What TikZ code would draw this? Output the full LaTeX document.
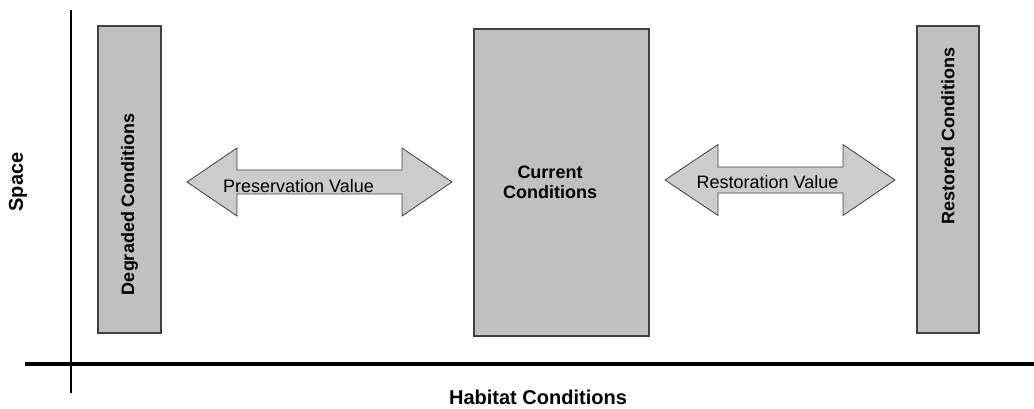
\documentclass[tikz,border=0pt]{standalone}
\usepackage{fontspec}
\setmainfont{Liberation Sans}
\definecolor{boxgray}{HTML}{C0C0C0}
\definecolor{arrowgray}{HTML}{CCCCCC}
\definecolor{edgegray}{HTML}{404040}
\tikzset{
  condbox/.style={draw=edgegray, line width=1.2pt, fill=boxgray, inner sep=0pt},
  valuearrow/.style={draw=edgegray, line width=0.8pt, fill=arrowgray, line join=miter},
  boxlabel/.style={font=\fontsize{18}{20}\selectfont\bfseries, inner sep=0pt},
  axislabel/.style={font=\fontsize{20}{22}\selectfont\bfseries, inner sep=0pt},
  valuelabel/.style={font=\fontsize{18}{20}\selectfont, inner sep=0pt}
}
\begin{document}
\begin{tikzpicture}[x=1pt,y=-1pt]
	\useasboundingbox (0,0) rectangle (1034,409);
	% axes
	\coordinate (ytop) at (71,10);
	\coordinate (ybot) at (71,393);
	\coordinate (xleft) at (25,364);
	\coordinate (xright) at (1034,364);
	\draw[line width=2.5pt] (ytop) -- (ybot);
	\draw[line width=3.5pt] (xleft) -- (xright);
	\node[axislabel, rotate=90] (space) at (18,182) {Space};
	\node[axislabel] (habitat) at (538,397) {Habitat Conditions};

	% condition boxes
	\node[condbox, minimum width=63pt, minimum height=307pt] (degraded) at (129.5,179.5) {};
	\node[condbox, minimum width=175pt, minimum height=307pt] (current) at (561.5,182.5) {};
	\node[condbox, minimum width=62pt, minimum height=307pt] (restored) at (948,179.5) {};
	\node[boxlabel, rotate=90] (degradedlbl) at (129.5,204) {Degraded Conditions};
	\node[boxlabel, align=center] (currentlbl) at (550,182) {Current\\Conditions};
	\node[boxlabel, rotate=90] (restoredlbl) at (948,136) {Restored Conditions};

	% value arrows
	\draw[valuearrow] (187,182) -- (237,148) -- (237,170) -- (402,170) -- (402,148) -- (452,182)
		-- (402,216) -- (402,194) -- (237,194) -- (237,216) -- cycle;
	\node[valuelabel] (preservation) at (298.5,186.5) {Preservation Value};
	\draw[valuearrow] (665,180) -- (718,144.5) -- (718,167) -- (843,167) -- (843,144.5) -- (895,180)
		-- (843,215.5) -- (843,193) -- (718,193) -- (718,215.5) -- cycle;
	\node[valuelabel] (restoration) at (767.5,182) {Restoration Value};
\end{tikzpicture}
\end{document}
